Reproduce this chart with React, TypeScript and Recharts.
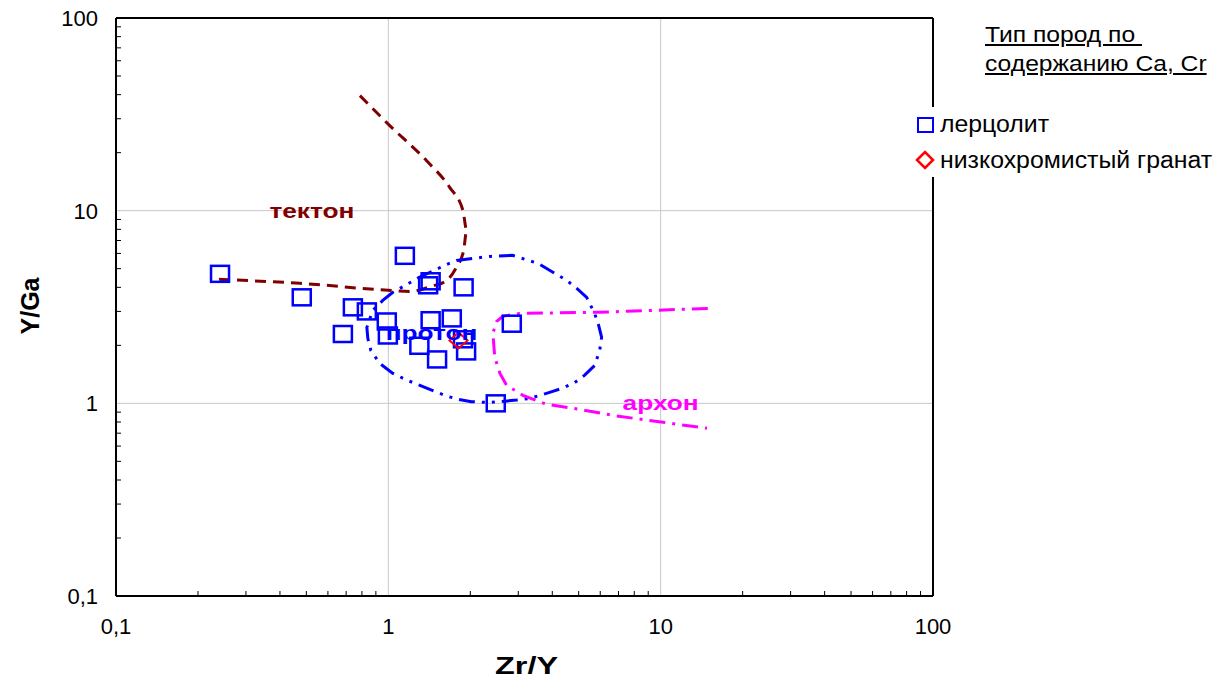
import React from "react"
import { ScatterChart, Scatter, XAxis, YAxis, ReferenceLine, ReferenceDot } from "recharts"

// лерцолит
const lherzZrY = [0.241, 0.481, 0.741, 0.834, 0.681, 0.987, 0.996, 1.15, 1.43, 1.4, 1.89, 1.43, 1.71, 1.3, 1.51, 1.93, 1.88, 2.48, 2.84]
const lherzYGa = [4.7, 3.55, 3.15, 3.0, 2.29, 2.66, 2.25, 5.83, 4.3, 4.1, 4.0, 2.7, 2.76, 1.99, 1.69, 1.86, 2.15, 1.0, 2.59]

// низкохромистый гранат
const garnetZrY = [1.81]
const garnetYGa = [2.12]

// поле "тектон"
const tectonZrY = [0.239, 0.473, 1.0, 1.2, 1.44, 1.64, 1.77, 1.89, 1.94, 1.88, 1.68, 1.38, 1.01, 0.786]
const tectonYGa = [4.4, 4.2, 3.86, 3.81, 4.05, 4.35, 5.02, 6.22, 7.9, 10.0, 13.2, 18.2, 27.7, 39.6]

// поле "протон" (замкнутое)
const protonZrY = [1.039, 0.954, 0.877, 0.834, 0.841, 0.863, 0.931, 1.039, 1.13, 1.25, 1.42, 1.64, 1.8, 2.02, 2.36, 2.96, 3.3, 3.91, 4.37, 4.83, 5.26, 5.72, 5.97, 6.07, 5.92, 5.72, 5.35, 4.92, 4.52, 3.54, 2.86, 2.36, 1.78, 1.61, 1.3, 1.12]
const protonYGa = [3.77, 3.42, 3.04, 2.48, 2.17, 1.88, 1.61, 1.43, 1.35, 1.27, 1.18, 1.09, 1.05, 1.02, 1.01, 1.04, 1.06, 1.14, 1.2, 1.28, 1.4, 1.57, 1.88, 2.2, 2.54, 2.93, 3.55, 3.95, 4.35, 5.33, 5.86, 5.79, 5.52, 5.2, 4.51, 4.0]

// поле "архон"
const archonZrY = [14.9, 5.97, 3.04, 2.63, 2.5, 2.42, 2.46, 2.57, 2.72, 3.12, 3.82, 5.04, 6.67, 10.2, 14.8]
const archonYGa = [3.11, 2.97, 2.93, 2.83, 2.66, 2.31, 1.73, 1.43, 1.24, 1.1, 0.988, 0.931, 0.866, 0.797, 0.742]

const axisTicks = [0.1, 0.2, 0.3, 0.4, 0.5, 0.6, 0.7, 0.8, 0.9, 1, 2, 3, 4, 5, 6, 7, 8, 9, 10, 20, 30, 40, 50, 60, 70, 80, 90, 100]
const decades = [0.1, 1, 10, 100]

const toPoints = (xs: number[], ys: number[]) => xs.map((x, i) => ({ x, y: ys[i] }))

const lherz = toPoints(lherzZrY, lherzYGa)
const garnet = toPoints(garnetZrY, garnetYGa)
const tecton = toPoints(tectonZrY, tectonYGa)
const proton = toPoints(protonZrY, protonYGa)
const archon = toPoints(archonZrY, archonYGa)

const FONT = "Arial, 'Liberation Sans', sans-serif"
const fmt = (v: number) => String(v).replace(".", ",")

const XTick = (props: any) => {
  const { x, y, payload } = props
  const major = decades.includes(payload.value)
  return (
    <g>
      {!major && <line x1={x} x2={x} y1={y} y2={y - 5} stroke="#000" strokeWidth={1} />}
      {major && (
        <text x={x} y={y + 38} textAnchor="middle" fontSize={22} fontFamily={FONT} fill="#000">
          {fmt(payload.value)}
        </text>
      )}
    </g>
  )
}

const YTick = (props: any) => {
  const { x, y, payload } = props
  const major = decades.includes(payload.value)
  return (
    <g>
      {!major && <line x1={x} x2={x + 5} y1={y} y2={y} stroke="#000" strokeWidth={1} />}
      {major && (
        <text x={x - 18} y={y + 8} textAnchor="end" fontSize={22} fontFamily={FONT} fill="#000">
          {fmt(payload.value)}
        </text>
      )}
    </g>
  )
}

const Square = (props: any) => (
  <rect x={props.cx - 9} y={props.cy - 8} width={18} height={16} fill="none" stroke="#0000ff" strokeWidth={2.5} />
)

const Diamond = (props: any) => {
  const { cx, cy } = props
  return (
    <path
      d={`M${cx - 9},${cy} L${cx},${cy - 8} L${cx + 9},${cy} L${cx},${cy + 8} Z`}
      fill="none"
      stroke="#ff0000"
      strokeWidth={2}
    />
  )
}

const noShape = () => <g />

const fieldLabel = (text: string, color: string) => (p: any) => (
  <text
    transform={`translate(${p.cx},${p.cy}) scale(1.25,1)`}
    x={0}
    y={7}
    textAnchor="middle"
    fontSize={21}
    fontWeight="bold"
    fontFamily={FONT}
    fill={color}
  >
    {text}
  </text>
)

const stretched = (sx: number): React.CSSProperties => ({
  transform: `scaleX(${sx})`,
  transformOrigin: "left center",
  whiteSpace: "pre",
})

export default function App() {
  return (
    <div style={{ position: "absolute", left: 0, top: 0, width: 1221, height: 681, background: "#fff", fontFamily: FONT }}>
      <ScatterChart width={1221} height={681} margin={{ top: 18, right: 288, bottom: 55, left: 0 }}>
        <XAxis
          dataKey="x"
          type="number"
          scale="log"
          domain={[0.1, 100]}
          allowDataOverflow
          ticks={axisTicks}
          interval={0}
          tickSize={0}
          tickMargin={0}
          tick={<XTick />}
          height={30}
          axisLine={{ stroke: "#000", strokeWidth: 2 }}
        />
        <YAxis
          dataKey="y"
          type="number"
          scale="log"
          domain={[0.1, 100]}
          allowDataOverflow
          ticks={axisTicks}
          interval={0}
          tickSize={0}
          tickMargin={0}
          tick={<YTick />}
          width={116}
          axisLine={{ stroke: "#000", strokeWidth: 2 }}
        />
        {[1, 10].map((v) => (
          <ReferenceLine key={"gx" + v} x={v} stroke="#c8c8c8" strokeWidth={1} />
        ))}
        {[1, 10].map((v) => (
          <ReferenceLine key={"gy" + v} y={v} stroke="#c8c8c8" strokeWidth={1} />
        ))}
        <ReferenceLine y={100} stroke="#000" strokeWidth={2} />
        <ReferenceLine x={100} stroke="#000" strokeWidth={2} />

        <Scatter
          data={tecton}
          line={{ stroke: "#800000", strokeWidth: 3, strokeDasharray: "11 7" }}
          lineType="joint"
          lineJointType="monotoneX"
          shape={noShape}
          isAnimationActive={false}
        />
        <Scatter
          data={proton}
          line={{ stroke: "#0000ff", strokeWidth: 3, strokeDasharray: "16 7 3 7 3 7" }}
          lineType="joint"
          lineJointType="linearClosed"
          shape={noShape}
          isAnimationActive={false}
        />
        <Scatter
          data={archon}
          line={{ stroke: "#ff00ff", strokeWidth: 3, strokeDasharray: "16 7 3 7" }}
          lineType="joint"
          lineJointType="linear"
          shape={noShape}
          isAnimationActive={false}
        />
        <Scatter data={lherz} shape={<Square />} isAnimationActive={false} />
        <Scatter data={garnet} shape={<Diamond />} isAnimationActive={false} />

        <ReferenceDot x={0.524} y={10} r={0} shape={fieldLabel("тектон", "#800000")} />
        <ReferenceDot x={1.44} y={2.31} r={0} shape={fieldLabel("протон", "#0000ff")} />
        <ReferenceDot x={10} y={1.01} r={0} shape={fieldLabel("архон", "#ff00ff")} />
      </ScatterChart>

      <div style={{ position: "absolute", left: 495, top: 651, fontSize: 24, fontWeight: "bold", lineHeight: "30px", ...stretched(1.35) }}>
        Zr/Y
      </div>
      <div
        style={{
          position: "absolute",
          left: 30,
          top: 306,
          fontSize: 25,
          fontWeight: "bold",
          lineHeight: "30px",
          transform: "translate(-50%, -50%) rotate(-90deg)",
          whiteSpace: "nowrap",
        }}
      >
        Y/Ga
      </div>

      <div style={{ position: "absolute", left: 985, top: 20, fontSize: 22, lineHeight: "29px", textDecoration: "underline", ...stretched(1.12) }}>
        {"Тип пород по \nсодержанию Ca, Cr"}
      </div>

      <div style={{ position: "absolute", left: 910, top: 107, width: 311, height: 70, background: "#fff", fontSize: 23 }}>
        <div style={{ position: "absolute", left: 7, top: 10, width: 13, height: 12, border: "2.5px solid #0000ff" }} />
        <div style={{ position: "absolute", left: 30, top: 4, lineHeight: "26px", ...stretched(1.08) }}>лерцолит</div>
        <svg style={{ position: "absolute", left: 5, top: 43 }} width={20} height={20}>
          <path d="M2,10 L10,2 L18,10 L10,18 Z" fill="none" stroke="#ff0000" strokeWidth={2.5} />
        </svg>
        <div style={{ position: "absolute", left: 30, top: 40, lineHeight: "26px", ...stretched(1.08) }}>низкохромистый гранат</div>
      </div>
    </div>
  )
}
